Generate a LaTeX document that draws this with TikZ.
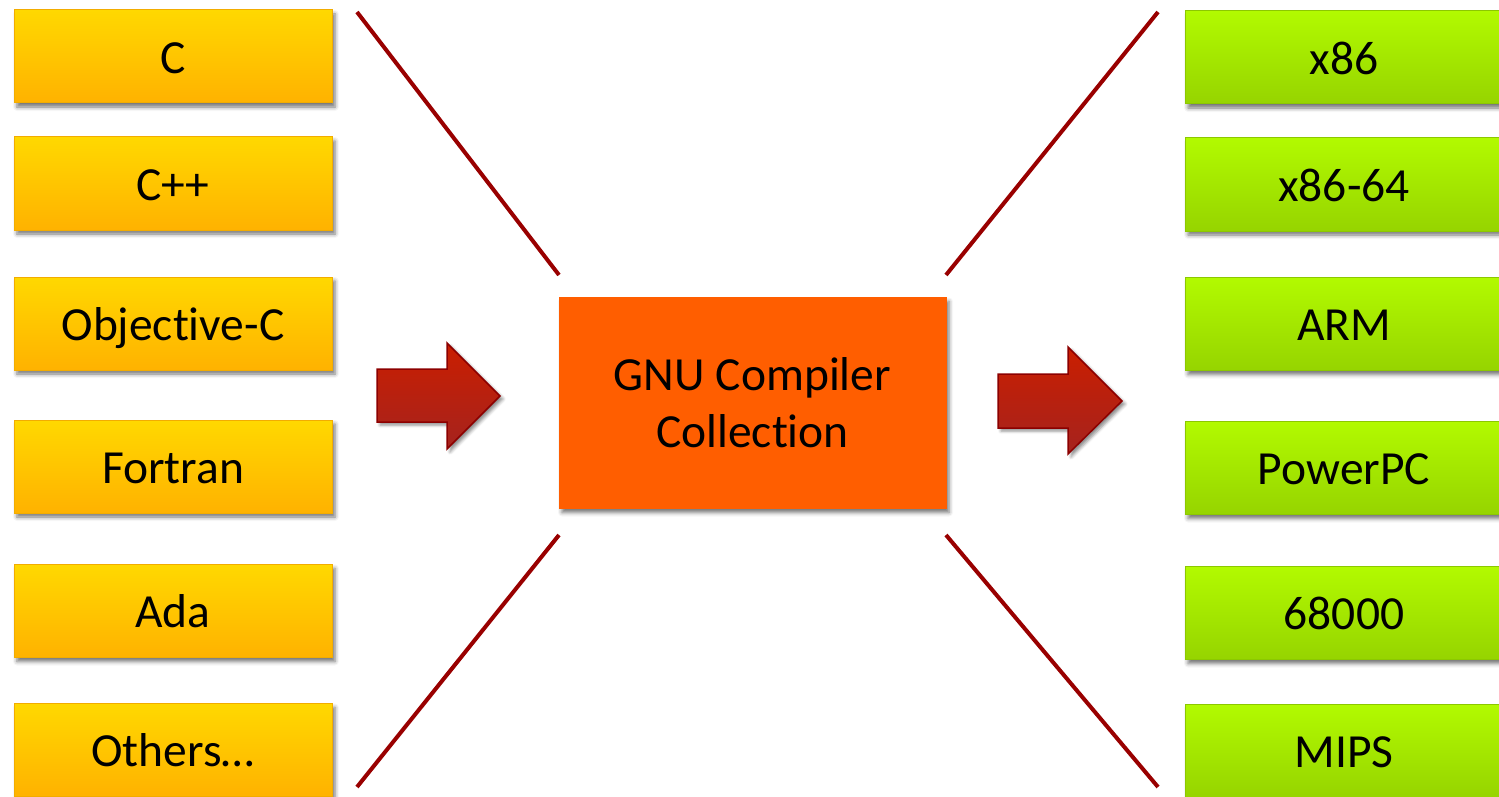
\documentclass[tikz,border=0pt]{standalone}
\usepackage{fontspec}
\setmainfont[Ligatures=NoCommon]{Carlito}
\usetikzlibrary{shadows.blur}
\definecolor{ytop}{RGB}{255,216,0}
\definecolor{ybot}{RGB}{255,178,0}
\definecolor{yline}{RGB}{242,172,0}
\definecolor{gtop}{RGB}{178,250,0}
\definecolor{gbot}{RGB}{150,212,0}
\definecolor{gline}{RGB}{140,200,0}
\definecolor{core}{RGB}{255,94,0}
\definecolor{linkred}{RGB}{153,0,0}
\definecolor{atop}{RGB}{202,30,0}
\definecolor{abot}{RGB}{165,35,30}
\definecolor{aline}{RGB}{140,0,0}
\begin{document}
\begin{tikzpicture}[x=1pt,y=-1pt,
  softshadow/.style={blur shadow={shadow xshift=3pt,shadow yshift=-4pt,shadow blur radius=4pt,shadow opacity=55}},
  boxtext/.style={font=\fontsize{47.5}{57}\selectfont, inner sep=0pt, text height=33.6pt, text depth=0pt},
  lang/.style={boxtext, softshadow, draw=yline, line width=1pt, top color=ytop, bottom color=ybot,
    minimum width=318pt, minimum height=93pt},
  target/.style={boxtext, softshadow, draw=gline, line width=1pt, top color=gtop, bottom color=gbot,
    minimum width=318pt, minimum height=93pt},
  corebox/.style={softshadow, fill=core, draw=core, minimum width=387pt, minimum height=211pt,
    font=\fontsize{47.5}{57}\selectfont, align=center, inner sep=0pt},
  bigarrow/.style={draw=aline, line width=1.5pt, top color=atop, bottom color=abot, line join=miter,
    blur shadow={shadow xshift=3pt,shadow yshift=-3pt,shadow blur radius=3pt,shadow opacity=45}},
  spoke/.style={draw=linkred, line width=4pt}
]
\useasboundingbox (0,0) rectangle (1499,797);

% left column
\node[lang] (c)    at (173,56.5)  {C};
\node[lang] (cpp)  at (173,183.5) {C++};
\node[lang] (objc) at (173,323.5) {Objective-C};
\node[lang] (fort) at (173,466.5) {Fortran};
\node[lang] (ada)  at (173,611)   {Ada};
\node[lang] (oth)  at (173,750)   {Others…};

% right column
\node[target] (x86)  at (1344,57.5)  {x86};
\node[target] (x64)  at (1344,184.5) {x86-64};
\node[target] (arm)  at (1344,324)   {ARM};
\node[target] (ppc)  at (1344,468)   {PowerPC};
\node[target] (m68k) at (1344,613)   {68000};
\node[target] (mips) at (1344,751)   {MIPS};

% centre
\node[corebox] (gcc) at (752.5,403) {GNU Compiler\\Collection};

% arrows
\path[bigarrow] (377,369) -- (447,369) -- (447,343) -- (500,396) -- (447,449) -- (447,422) -- (377,422) -- cycle;
\path[bigarrow] (998,374) -- (1068,374) -- (1068,347) -- (1122,401) -- (1068,454) -- (1068,428) -- (998,428) -- cycle;

% spokes
\coordinate (tl1) at (357,12);   \coordinate (tl2) at (559,275);
\coordinate (bl1) at (357,787);  \coordinate (bl2) at (559,535);
\coordinate (tr1) at (1158,12);  \coordinate (tr2) at (946,275);
\coordinate (br1) at (1158,787); \coordinate (br2) at (946,535);
\draw[spoke] (tl1) -- (tl2);
\draw[spoke] (bl1) -- (bl2);
\draw[spoke] (tr1) -- (tr2);
\draw[spoke] (br1) -- (br2);
\end{tikzpicture}
\end{document}
